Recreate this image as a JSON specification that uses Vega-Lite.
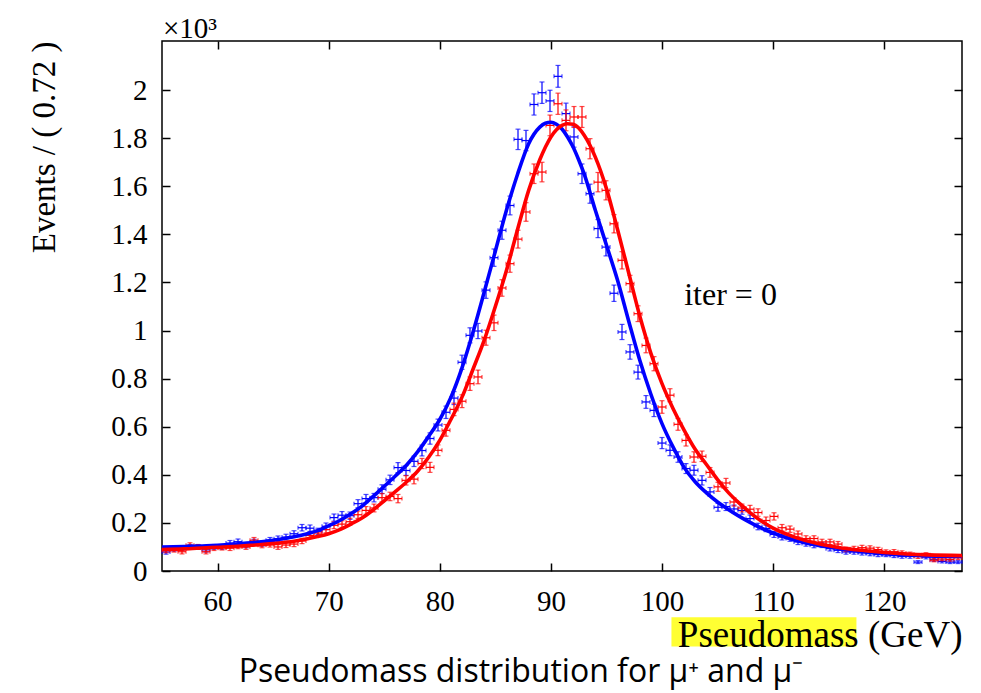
{
  "$schema": "https://vega.github.io/schema/vega-lite/v6.json",
  "width": 800,
  "height": 530,
  "autosize": {"type": "none"},
  "padding": {"left": 162, "top": 41, "right": 19, "bottom": 122},
  "background": "white",
  "title": {
    "text": "Pseudomass distribution for μ⁺ and μ⁻",
    "orient": "bottom",
    "anchor": "middle",
    "dx": -41,
    "offset": 4,
    "font": "Open Sans",
    "fontSize": 32,
    "fontWeight": "normal",
    "color": "black"
  },
  "config": {
    "view": {"stroke": "black", "strokeWidth": 1.5},
    "axis": {"domain": false, "grid": false, "tickColor": "black", "tickWidth": 1.5, "labelColor": "black", "titleColor": "black", "labelFont": "Liberation Serif", "titleFont": "Liberation Serif", "titleFontWeight": "normal"}
  },
  "datasets": {
    "pts": [
      {"m":55.36,"w":0.36,"b":79,"be":8.9,"r":85,"re":9.2},
      {"m":56.08,"w":0.36,"b":92,"be":9.6,"r":88,"re":9.4},
      {"m":56.8,"w":0.36,"b":95,"be":9.7,"r":80,"re":8.9},
      {"m":57.52,"w":0.36,"b":100,"be":10,"r":107,"re":10.3},
      {"m":58.24,"w":0.36,"b":100,"be":10,"r":100,"re":10},
      {"m":58.96,"w":0.36,"b":88,"be":9.4,"r":80,"re":8.9},
      {"m":59.68,"w":0.36,"b":100,"be":10,"r":95,"re":9.7},
      {"m":60.4,"w":0.36,"b":100,"be":10,"r":97,"re":9.8},
      {"m":61.12,"w":0.36,"b":116,"be":10.8,"r":95,"re":9.7},
      {"m":61.84,"w":0.36,"b":122,"be":11,"r":103,"re":10.1},
      {"m":62.56,"w":0.36,"b":107,"be":10.3,"r":100,"re":10},
      {"m":63.28,"w":0.36,"b":121,"be":11,"r":128,"re":11.3},
      {"m":64,"w":0.36,"b":114,"be":10.7,"r":107,"re":10.3},
      {"m":64.72,"w":0.36,"b":128,"be":11.3,"r":110,"re":10.5},
      {"m":65.44,"w":0.36,"b":134,"be":11.6,"r":100,"re":10},
      {"m":66.16,"w":0.36,"b":141,"be":11.9,"r":108,"re":10.4},
      {"m":66.88,"w":0.36,"b":155,"be":12.4,"r":112,"re":10.6},
      {"m":67.6,"w":0.36,"b":180,"be":13.4,"r":125,"re":11.2},
      {"m":68.32,"w":0.36,"b":178,"be":13.3,"r":148,"re":12.2},
      {"m":69.04,"w":0.36,"b":165,"be":12.8,"r":158,"re":12.6},
      {"m":69.76,"w":0.36,"b":186,"be":13.6,"r":172,"re":13.1},
      {"m":70.48,"w":0.36,"b":222,"be":14.9,"r":190,"re":13.8},
      {"m":71.2,"w":0.36,"b":232,"be":15.2,"r":195,"re":14},
      {"m":71.92,"w":0.36,"b":230,"be":15.2,"r":205,"re":14.3},
      {"m":72.64,"w":0.36,"b":280,"be":16.7,"r":234,"re":15.3},
      {"m":73.36,"w":0.36,"b":301,"be":17.3,"r":252,"re":15.9},
      {"m":74.08,"w":0.36,"b":305,"be":17.5,"r":262,"re":16.2},
      {"m":74.8,"w":0.36,"b":340,"be":18.4,"r":305,"re":17.5},
      {"m":75.52,"w":0.36,"b":379,"be":19.5,"r":310,"re":17.6},
      {"m":76.24,"w":0.36,"b":430,"be":20.7,"r":301,"re":17.3},
      {"m":76.96,"w":0.36,"b":418,"be":20.4,"r":377,"re":19.4},
      {"m":77.68,"w":0.36,"b":456,"be":21.4,"r":382,"re":19.5},
      {"m":78.4,"w":0.36,"b":501,"be":22.4,"r":447,"re":21.1},
      {"m":79.12,"w":0.36,"b":551,"be":23.5,"r":431,"re":20.8},
      {"m":79.84,"w":0.36,"b":607,"be":24.6,"r":502,"re":22.4},
      {"m":80.56,"w":0.36,"b":660,"be":25.7,"r":585,"re":24.2},
      {"m":81.28,"w":0.36,"b":719,"be":26.8,"r":672,"re":25.9},
      {"m":82,"w":0.36,"b":868,"be":29.5,"r":706,"re":26.6},
      {"m":82.72,"w":0.36,"b":980,"be":31.3,"r":779,"re":27.9},
      {"m":83.44,"w":0.36,"b":998,"be":31.6,"r":807,"re":28.4},
      {"m":84.16,"w":0.36,"b":1168,"be":34.2,"r":970,"re":31.1},
      {"m":84.88,"w":0.36,"b":1303,"be":36.1,"r":1032,"re":32.1},
      {"m":85.6,"w":0.36,"b":1417,"be":37.6,"r":1177,"re":34.3},
      {"m":86.32,"w":0.36,"b":1520,"be":39,"r":1278,"re":35.7},
      {"m":87.04,"w":0.36,"b":1795,"be":42.4,"r":1380,"re":37.1},
      {"m":87.76,"w":0.36,"b":1790,"be":42.3,"r":1493,"re":38.6},
      {"m":88.48,"w":0.36,"b":1940,"be":44,"r":1652,"re":40.6},
      {"m":89.2,"w":0.36,"b":1989,"be":44.6,"r":1659,"re":40.7},
      {"m":89.92,"w":0.36,"b":1955,"be":44.2,"r":1853,"re":43},
      {"m":90.64,"w":0.36,"b":2057,"be":45.4,"r":1943,"re":44.1},
      {"m":91.36,"w":0.36,"b":1902,"be":43.6,"r":1874,"re":43.3},
      {"m":92.08,"w":0.36,"b":1805,"be":42.5,"r":1888,"re":43.5},
      {"m":92.8,"w":0.36,"b":1652,"be":40.6,"r":1888,"re":43.5},
      {"m":93.52,"w":0.36,"b":1569,"be":39.6,"r":1756,"re":41.9},
      {"m":94.24,"w":0.36,"b":1424,"be":37.7,"r":1617,"re":40.2},
      {"m":94.96,"w":0.36,"b":1347,"be":36.7,"r":1583,"re":39.8},
      {"m":95.68,"w":0.36,"b":1155,"be":34,"r":1444,"re":38},
      {"m":96.4,"w":0.36,"b":994,"be":31.5,"r":1292,"re":35.9},
      {"m":97.12,"w":0.36,"b":911,"be":30.2,"r":1195,"re":34.6},
      {"m":97.84,"w":0.36,"b":827,"be":28.8,"r":1070,"re":32.7},
      {"m":98.56,"w":0.36,"b":703,"be":26.5,"r":938,"re":30.6},
      {"m":99.28,"w":0.36,"b":668,"be":25.8,"r":862,"re":29.4},
      {"m":100,"w":0.36,"b":532,"be":23.1,"r":682,"re":26.1},
      {"m":100.72,"w":0.36,"b":502,"be":22.4,"r":731,"re":27},
      {"m":101.44,"w":0.36,"b":474,"be":21.8,"r":610,"re":24.7},
      {"m":102.16,"w":0.36,"b":426,"be":20.6,"r":543,"re":23.3},
      {"m":102.88,"w":0.36,"b":419,"be":20.5,"r":474,"re":21.8},
      {"m":103.6,"w":0.36,"b":377,"be":19.4,"r":477,"re":21.8},
      {"m":104.32,"w":0.36,"b":329,"be":18.1,"r":410,"re":20.2},
      {"m":105.04,"w":0.36,"b":265,"be":16.3,"r":350,"re":18.7},
      {"m":105.76,"w":0.36,"b":268,"be":16.4,"r":366,"re":19.1},
      {"m":106.48,"w":0.36,"b":258,"be":16.1,"r":287,"re":16.9},
      {"m":107.2,"w":0.36,"b":252,"be":15.9,"r":262,"re":16.2},
      {"m":107.92,"w":0.36,"b":218,"be":14.8,"r":257,"re":16},
      {"m":108.64,"w":0.36,"b":185,"be":13.6,"r":243,"re":15.6},
      {"m":109.36,"w":0.36,"b":177,"be":13.3,"r":210,"re":14.5},
      {"m":110.08,"w":0.36,"b":152,"be":12.3,"r":227,"re":15.1},
      {"m":110.8,"w":0.36,"b":141,"be":11.9,"r":180,"re":13.4},
      {"m":111.52,"w":0.36,"b":135,"be":11.6,"r":174,"re":13.2},
      {"m":112.24,"w":0.36,"b":121,"be":11,"r":154,"re":12.4},
      {"m":112.96,"w":0.36,"b":114,"be":10.7,"r":135,"re":11.6},
      {"m":113.68,"w":0.36,"b":107,"be":10.3,"r":135,"re":11.6},
      {"m":114.4,"w":0.36,"b":108,"be":10.4,"r":121,"re":11},
      {"m":115.12,"w":0.36,"b":93,"be":9.6,"r":121,"re":11},
      {"m":115.84,"w":0.36,"b":86,"be":9.3,"r":112,"re":10.6},
      {"m":116.56,"w":0.36,"b":79,"be":8.9,"r":90,"re":9.5},
      {"m":117.28,"w":0.36,"b":79,"be":8.9,"r":93,"re":9.6},
      {"m":118,"w":0.36,"b":75,"be":8.7,"r":97,"re":9.8},
      {"m":118.72,"w":0.36,"b":72,"be":8.5,"r":95,"re":9.7},
      {"m":119.44,"w":0.36,"b":68,"be":8.2,"r":89,"re":9.4},
      {"m":120.16,"w":0.36,"b":68,"be":8.2,"r":79,"re":8.9},
      {"m":120.88,"w":0.36,"b":64,"be":8,"r":80,"re":8.9},
      {"m":121.6,"w":0.36,"b":61,"be":7.8,"r":75,"re":8.7},
      {"m":122.32,"w":0.36,"b":61,"be":7.8,"r":70,"re":8.4},
      {"m":123.04,"w":0.36,"b":37,"be":6.1,"r":60,"re":7.7},
      {"m":123.76,"w":0.36,"b":58,"be":7.6,"r":68,"re":8.2},
      {"m":124.48,"w":0.36,"b":47,"be":6.9,"r":45,"re":6.7},
      {"m":125.2,"w":0.36,"b":40,"be":6.3,"r":50,"re":7.1},
      {"m":125.92,"w":0.36,"b":37,"be":6.1,"r":48,"re":6.9},
      {"m":126.64,"w":0.36,"b":37,"be":6.1,"r":55,"re":7.4}
    ],
    "fit": [
      {"x":55,"b":100,"r":89},{"x":57,"b":102,"r":92},{"x":59,"b":105,"r":97},{"x":61,"b":110,"r":101},
      {"x":63,"b":117,"r":107},{"x":65,"b":128,"r":114},{"x":67,"b":143,"r":125},{"x":68,"b":154,"r":133},
      {"x":69,"b":168,"r":143},{"x":70,"b":188,"r":155},{"x":71,"b":210,"r":172},{"x":72,"b":238,"r":195},
      {"x":73,"b":270,"r":220},{"x":74,"b":310,"r":254},{"x":75,"b":352,"r":292},{"x":76,"b":395,"r":330},
      {"x":77,"b":440,"r":370},{"x":78,"b":495,"r":415},{"x":79,"b":560,"r":473},{"x":80,"b":630,"r":543},
      {"x":81,"b":722,"r":630},{"x":82,"b":845,"r":723},{"x":83,"b":995,"r":840},{"x":84,"b":1160,"r":960},
      {"x":85,"b":1330,"r":1100},{"x":86,"b":1500,"r":1250},{"x":87,"b":1650,"r":1420},{"x":88,"b":1777,"r":1583},
      {"x":89,"b":1846,"r":1710},{"x":89.5,"b":1862,"r":1762},{"x":90,"b":1866,"r":1805},{"x":90.5,"b":1858,"r":1835},
      {"x":91,"b":1838,"r":1853},{"x":91.5,"b":1805,"r":1860},{"x":92,"b":1763,"r":1858},{"x":92.5,"b":1710,"r":1842},
      {"x":93,"b":1650,"r":1812},{"x":94,"b":1500,"r":1721},{"x":95,"b":1355,"r":1590},{"x":96,"b":1209,"r":1420},
      {"x":97,"b":1040,"r":1240},{"x":98,"b":876,"r":1060},{"x":99,"b":735,"r":905},{"x":100,"b":613,"r":779},
      {"x":101,"b":515,"r":675},{"x":102,"b":430,"r":585},{"x":103,"b":370,"r":505},{"x":104,"b":325,"r":443},
      {"x":105,"b":287,"r":380},{"x":106,"b":255,"r":325},{"x":107,"b":226,"r":280},{"x":108,"b":200,"r":240},
      {"x":109,"b":177,"r":206},{"x":110,"b":158,"r":178},{"x":112,"b":128,"r":140},{"x":114,"b":107,"r":114},
      {"x":116,"b":93,"r":97},{"x":118,"b":81,"r":86},{"x":120,"b":72,"r":77},{"x":122,"b":67,"r":71},
      {"x":124,"b":63,"r":67},{"x":127,"b":60,"r":64}
    ]
  },
  "resolve": {"axis": {"x": "independent", "y": "independent"}},
  "layer": [
    {
      "data": {"values": [{}]},
      "mark": {"type": "rect", "color": "#ffff33", "clip": false},
      "encoding": {
        "x": {"datum": 100.85, "type": "quantitative", "axis": null},
        "x2": {"datum": 117.5},
        "y": {"datum": -192, "type": "quantitative", "axis": null},
        "y2": {"datum": -314}
      }
    },
    {
      "data": {"name": "pts"},
      "mark": {"type": "errorbar", "color": "#0000ff", "thickness": 1.2, "ticks": {"size": 5, "thickness": 1.2}},
      "encoding": {
        "x": {"field": "m", "type": "quantitative", "scale": {"domain": [55, 127], "nice": false, "zero": false},
          "axis": {"orient": "bottom", "values": [60, 70, 80, 90, 100, 110, 120], "tickSize": -8, "labelFontSize": 29, "labelPadding": 24, "title": "Pseudomass (GeV)", "titleFontSize": 37, "titleAnchor": "end", "titlePadding": 1, "zindex": 1}},
        "y": {"field": "b", "type": "quantitative", "scale": {"domain": [0, 2204], "nice": false},
          "axis": {"orient": "left", "values": [0, 200, 400, 600, 800, 1000, 1200, 1400, 1600, 1800, 2000], "labelExpr": "format(datum.value / 1000, '~g')", "tickSize": -8, "labelFontSize": 29, "labelPadding": 23, "title": "Events / ( 0.72 )", "titleFontSize": 33, "titleAnchor": "end", "titlePadding": 49, "zindex": 1}},
        "yError": {"field": "be"}
      }
    },
    {
      "data": {"name": "pts"},
      "mark": {"type": "errorbar", "color": "#0000ff", "thickness": 1.2, "ticks": {"size": 4, "thickness": 1.2}},
      "encoding": {
        "x": {"field": "m", "type": "quantitative",
          "axis": {"orient": "top", "values": [60, 70, 80, 90, 100, 110, 120], "tickSize": -8, "labels": false, "title": null, "zindex": 1}},
        "xError": {"field": "w"},
        "y": {"field": "b", "type": "quantitative",
          "axis": {"orient": "right", "values": [0, 200, 400, 600, 800, 1000, 1200, 1400, 1600, 1800, 2000], "tickSize": -8, "labels": false, "title": null, "zindex": 1}}
      }
    },
    {
      "data": {"name": "pts"},
      "mark": {"type": "errorbar", "color": "#ff0000", "thickness": 1.2, "ticks": {"size": 5, "thickness": 1.2}},
      "encoding": {
        "x": {"field": "m", "type": "quantitative", "axis": null},
        "y": {"field": "r", "type": "quantitative", "axis": null},
        "yError": {"field": "re"}
      }
    },
    {
      "data": {"name": "pts"},
      "mark": {"type": "errorbar", "color": "#ff0000", "thickness": 1.2, "ticks": {"size": 4, "thickness": 1.2}},
      "encoding": {
        "x": {"field": "m", "type": "quantitative", "axis": null},
        "xError": {"field": "w"},
        "y": {"field": "r", "type": "quantitative", "axis": null}
      }
    },
    {
      "data": {"name": "fit"},
      "mark": {"type": "line", "color": "#0000ff", "strokeWidth": 3.6, "interpolate": "monotone"},
      "encoding": {
        "x": {"field": "x", "type": "quantitative", "axis": null},
        "y": {"field": "b", "type": "quantitative", "axis": null}
      }
    },
    {
      "data": {"name": "fit"},
      "mark": {"type": "line", "color": "#ff0000", "strokeWidth": 3.6, "interpolate": "monotone"},
      "encoding": {
        "x": {"field": "x", "type": "quantitative", "axis": null},
        "y": {"field": "r", "type": "quantitative", "axis": null}
      }
    },
    {
      "data": {"values": [{}]},
      "mark": {"type": "text", "text": "×10³", "font": "Liberation Serif", "fontSize": 29, "align": "left", "baseline": "alphabetic", "dy": -3, "dx": 1, "color": "black", "clip": false},
      "encoding": {
        "x": {"datum": 55, "type": "quantitative", "axis": null},
        "y": {"datum": 2204, "type": "quantitative", "axis": null}
      }
    },
    {
      "data": {"values": [{}]},
      "mark": {"type": "text", "text": "iter = 0", "font": "Liberation Serif", "fontSize": 32, "align": "left", "baseline": "middle", "color": "black"},
      "encoding": {
        "x": {"datum": 102, "type": "quantitative", "axis": null},
        "y": {"datum": 1146, "type": "quantitative", "axis": null}
      }
    }
  ]
}
